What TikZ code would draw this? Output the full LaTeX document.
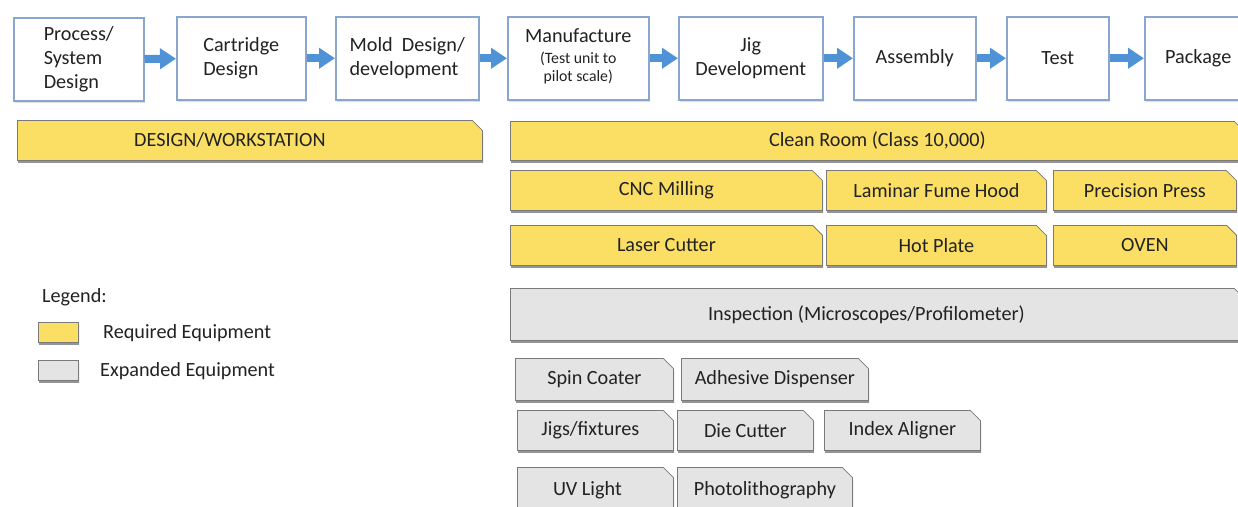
\documentclass[tikz,border=0pt]{standalone}
\usepackage{fontspec}
\setmainfont{Carlito}
\usetikzlibrary{arrows.meta,shapes.misc,shadows}
\definecolor{txt}{HTML}{222222}
\definecolor{stageblue}{HTML}{8AA6CE}
\definecolor{arrowblue}{HTML}{4F93D6}
\definecolor{reqyellow}{HTML}{FBDF64}
\definecolor{expgray}{HTML}{E4E4E4}
\definecolor{edgegray}{HTML}{7A7A7A}
\newcommand{\lblfont}{\fontsize{20.2}{24}\selectfont}
\newcommand{\subfont}{\fontsize{15.8}{18}\selectfont}
% \eqbox[extra]{name}{style}{x1}{y1}{x2}{y2}{text}
\newcommand{\eqbox}[8][]{%
  \node[#3, anchor=north west, minimum width={#6pt-#4pt}, minimum height={#7pt-#5pt}, #1] (#2) at (#4,#5) {#8};}
\tikzset{
  stage/.style={draw=stageblue, line width=1.5pt, fill=white, inner sep=0pt,
    font=\lblfont, text=txt,
    drop shadow={shadow xshift=1pt, shadow yshift=-2pt, opacity=0.25, fill=black!50}},
  equip/.style={chamfered rectangle, chamfered rectangle corners=north east,
    chamfered rectangle angle=45, chamfered rectangle xsep=7pt,
    draw=edgegray, line width=0.8pt, inner sep=0pt, font=\lblfont, text=txt,
    drop shadow={shadow xshift=0.8pt, shadow yshift=-2.5pt, opacity=0.6, fill=black!70}},
  req/.style={equip, fill=reqyellow},
  expd/.style={equip, fill=expgray},
  plain/.style={inner sep=0pt, font=\lblfont, text=txt},
  flow/.style={draw=arrowblue, line width=8pt, -{Triangle[length=16pt,width=20pt]}}
}
\begin{document}
\begin{tikzpicture}[x=1pt, y=-1pt]
\useasboundingbox (0,0) rectangle (1238,506);
\clip (0,0) rectangle (1238,506);
% process stages
\eqbox[align=left, yshift=-1pt]{s1}{stage}{13}{16}{143}{99}{Process/\\System\\Design}
\eqbox[align=left]{s2}{stage}{176}{16}{305}{99}{Cartridge\\Design}
\eqbox[align=left]{s3}{stage}{335}{16}{478}{99}{Mold\ \ Design/\\development}
\eqbox[align=center]{s4}{stage}{507}{16}{648}{99}{Manufacture\\[-3pt]{\subfont (Test unit to}\\[-6pt]{\subfont pilot scale)}\\[-18pt]}
\eqbox[align=center]{s5}{stage}{678}{16}{822}{99}{Jig\\Development}
\eqbox[align=center]{s6}{stage}{853}{16}{975}{99}{Assembly}
\eqbox[align=center]{s7}{stage}{1006}{16}{1108}{99}{Test}
\eqbox[align=center]{s8}{stage}{1144}{16}{1251}{99}{Package}
\draw[flow] (s1) -- (s2);
\draw[flow] (s2) -- (s3);
\draw[flow] (s3) -- (s4);
\draw[flow] (s4) -- (s5);
\draw[flow] (s5) -- (s6);
\draw[flow] (s6) -- (s7);
\draw[flow] (s7) -- (s8);
% required equipment
\eqbox{dw}{req}{17}{120}{482}{160}{DESIGN/WORKSTATION\hspace*{40pt}}
\eqbox{cr}{req}{510}{121}{1244}{160}{Clean Room (Class 10,000)}
\eqbox{cnc}{req}{510}{170}{822}{210}{CNC Milling}
\eqbox{lam}{req}{826}{170}{1046}{210}{Laminar Fume Hood}
\eqbox{pp}{req}{1053}{170}{1236}{210}{Precision Press}
\eqbox{lc}{req}{510}{225}{822}{265}{Laser Cutter}
\eqbox{hp}{req}{826}{225}{1046}{265}{Hot Plate}
\eqbox{ov}{req}{1053}{225}{1236}{265}{OVEN}
% expanded equipment
\eqbox{insp}{expd}{510}{288}{1244}{340}{Inspection (Microscopes/Profilometer)\hspace*{22pt}}
\eqbox{sc}{expd}{515}{358}{673}{400}{Spin Coater}
\eqbox{ad}{expd}{681}{358}{868}{400}{Adhesive Dispenser}
\eqbox{jf}{expd}{517}{410}{673}{450}{Jigs/fixtures\hspace*{10pt}}
\eqbox{dc}{expd}{677}{410}{813}{450}{Die Cutter}
\eqbox{ia}{expd}{824}{410}{980}{450}{Index Aligner}
\eqbox{uv}{expd}{517}{467}{673}{512}{UV Light\hspace*{16pt}}
\eqbox{ph}{expd}{677}{467}{852}{512}{Photolithography}
% legend
\node[plain, anchor=west] (lg) at (42,297) {Legend:};
\eqbox[chamfered rectangle xsep=4pt]{sw1}{req}{38}{322}{78}{342}{}
\eqbox[chamfered rectangle xsep=4pt]{sw2}{expd}{38}{360}{78}{380}{}
\node[plain, anchor=west] (lr) at (103,333) {Required Equipment};
\node[plain, anchor=west] (le) at (100,371) {Expanded Equipment};
\end{tikzpicture}
\end{document}
